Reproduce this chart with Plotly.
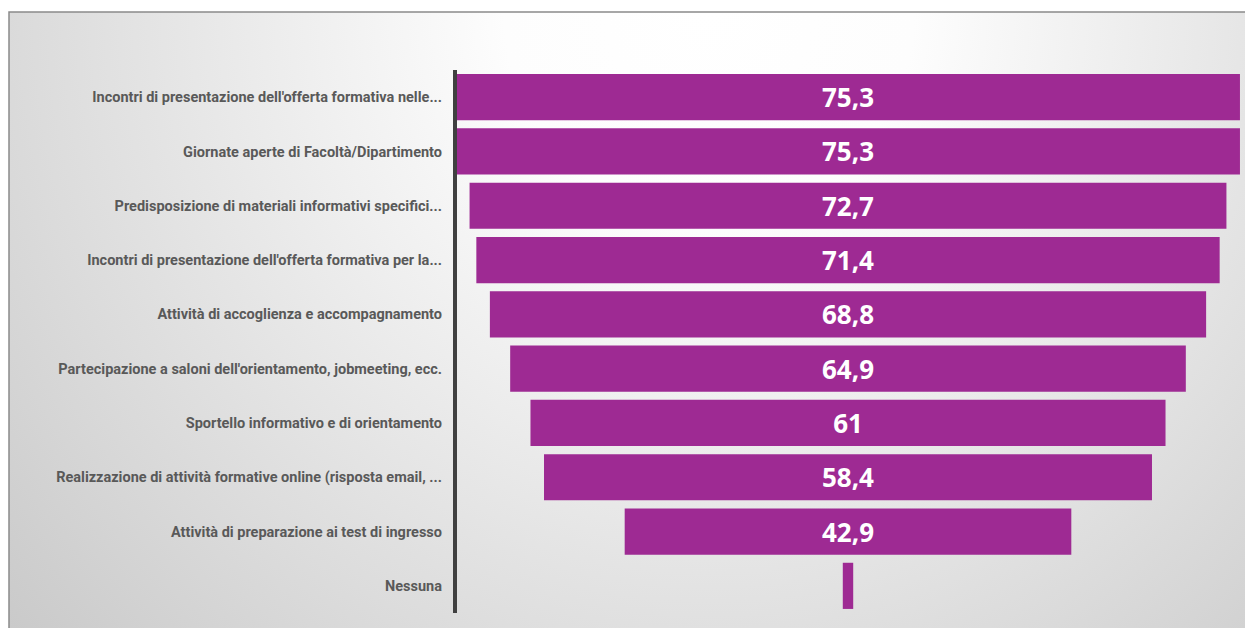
import plotly.graph_objects as go
import urllib.parse

categories = [
    "Incontri di presentazione dell'offerta formativa nelle...",
    "Giornate aperte di Facoltà/Dipartimento",
    "Predisposizione di materiali informativi specifici...",
    "Incontri di presentazione dell'offerta formativa per la...",
    "Attività di accoglienza e accompagnamento",
    "Partecipazione a saloni dell'orientamento, jobmeeting, ecc.",
    "Sportello informativo e di orientamento",
    "Realizzazione di attività formative online (risposta email, ...",
    "Attività di preparazione ai test di ingresso",
    "Nessuna",
]
values = [75.3, 75.3, 72.7, 71.4, 68.8, 64.9, 61.0, 58.4, 42.9, 1.0]
value_labels = ["75,3", "75,3", "72,7", "71,4", "68,8", "64,9", "61", "58,4", "42,9", ""]

OFF = 8  # page body margin
W, H = 1253 - OFF, 628 - OFF
# desired page coordinates of plot area
PL, PR, PT, PB = 455, 1241, 70, 613
ML, MT = PL - OFF, PT - OFF
MR = W - (PR - OFF)
MB = H - (PB - OFF)
pw = PR - PL
ph = PB - PT

def px_to_paper_x(px):  # px in page coordinates
    return (px - PL) / pw

def px_to_paper_y(py):
    return (PB - py) / ph

# Background radial gradient (frame region, page coords)
fx0, fy0, fx1, fy1 = 9, 12, 1270, 650
fw, fh = fx1 - fx0, fy1 - fy0
svg = (
    f'<svg xmlns="http://www.w3.org/2000/svg" width="{fw}" height="{fh}" viewBox="0 0 {fw} {fh}" preserveAspectRatio="none">'
    f'<defs><radialGradient id="g" gradientUnits="userSpaceOnUse" cx="700" cy="0" r="930">'
    '<stop offset="0" stop-color="#ffffff"/>'
    '<stop offset="0.22" stop-color="#fdfdfd"/>'
    '<stop offset="1" stop-color="#cacaca"/>'
    '</radialGradient></defs>'
    f'<rect x="0" y="0" width="{fw}" height="{fh}" fill="url(#g)"/></svg>'
)
svg_uri = "data:image/svg+xml;charset=utf-8," + urllib.parse.quote(svg)

fig = go.Figure(
    go.Funnel(
        y=categories,
        x=values,
        text=value_labels,
        textinfo="text",
        textposition="inside",
        insidetextanchor="middle",
        textfont=dict(family="Open Sans", size=26, color="#ffffff", weight="bold"),
        marker=dict(color="#9e2a93", line=dict(width=0)),
        connector=dict(visible=False),
        hoverinfo="skip",
    )
)

fig.update_layout(
    width=W,
    height=H,
    margin=dict(l=ML, r=MR, t=MT, b=MB),
    paper_bgcolor="#ffffff",
    plot_bgcolor="rgba(0,0,0,0)",
    funnelgap=0.15,
    showlegend=False,
    xaxis=dict(visible=False, range=[-37.75, 37.75], fixedrange=True),
    yaxis=dict(
        showline=False,
        showgrid=False,
        zeroline=False,
        ticks="",
        ticklabelstandoff=12,
        automargin=False,
        tickfont=dict(family="Roboto", size=14.5, color="#595959", weight="bold"),
    ),
    images=[
        dict(
            source=svg_uri,
            xref="paper",
            yref="paper",
            x=px_to_paper_x(fx0),
            y=px_to_paper_y(fy0),
            sizex=fw / pw,
            sizey=fh / ph,
            xanchor="left",
            yanchor="top",
            sizing="stretch",
            layer="below",
        )
    ],
    shapes=[
        dict(
            type="rect",
            xref="paper",
            yref="paper",
            x0=px_to_paper_x(fx0),
            y0=px_to_paper_y(fy1),
            x1=px_to_paper_x(fx1),
            y1=px_to_paper_y(fy0),
            line=dict(color="#8a8a8a", width=1.5),
            fillcolor="rgba(0,0,0,0)",
            layer="above",
        ),
        dict(
            type="line",
            xref="paper",
            yref="paper",
            x0=0, x1=0, y0=0, y1=1,
            line=dict(color="#404040", width=4),
            layer="above",
        ),
    ],
)

fig.write_html("out.html")
